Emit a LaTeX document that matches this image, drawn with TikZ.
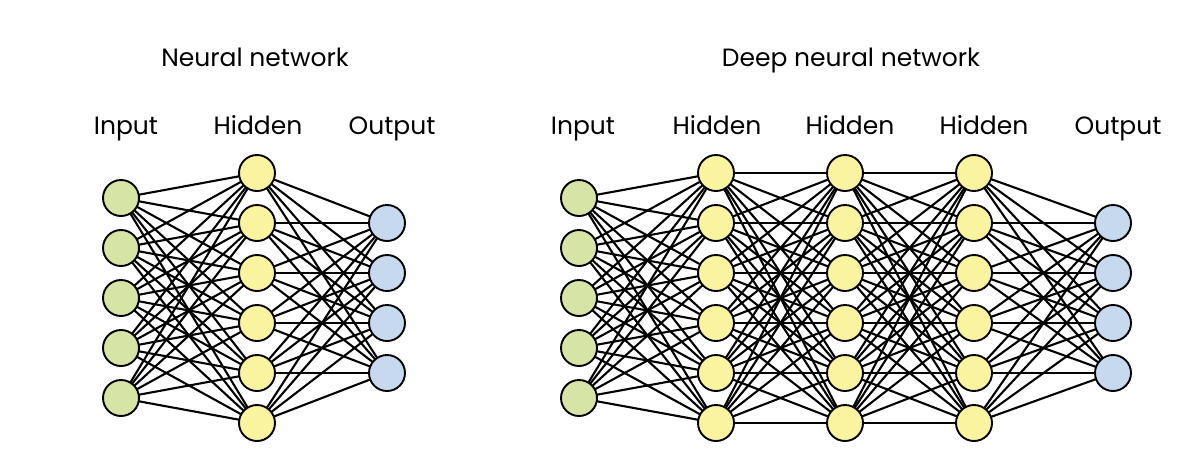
\documentclass[tikz,border=0pt]{standalone}
\usepackage{fontspec}
\setmainfont{Poppins}
\pgfdeclarelayer{edges}
\pgfsetlayers{edges,main}
\definecolor{ingreen}{RGB}{214,228,166}
\definecolor{hidyellow}{RGB}{250,244,160}
\definecolor{outblue}{RGB}{198,217,238}
\begin{document}
\begin{tikzpicture}[x=1pt,y=-1pt,
  neuron/.style={circle,draw=black,line width=1.9pt,minimum size=36pt,inner sep=0pt},
  innode/.style={neuron,fill=ingreen},
  hidnode/.style={neuron,fill=hidyellow},
  outnode/.style={neuron,fill=outblue},
  conn/.style={draw=black,line width=2.1pt},
  lbl/.style={anchor=base,font=\fontsize{25}{28}\selectfont,inner sep=0pt}]
\useasboundingbox (0,0) rectangle (1200,475);
% ---------- Neural network ----------
\node[lbl] (t1) at (255,66) {Neural network};
\node[lbl] (li) at (126,134) {Input};
\node[lbl] (lh) at (258,134) {Hidden};
\node[lbl] (lo) at (392,134) {Output};
\foreach \i in {1,...,5} \node[innode] (a\i) at (121,{148+50*\i}) {};
\foreach \i in {1,...,6} \node[hidnode] (b\i) at (257,{123+50*\i}) {};
\foreach \i in {1,...,4} \node[outnode] (c\i) at (387,{173+50*\i}) {};
\begin{pgfonlayer}{edges}
\foreach \i in {1,...,5} \foreach \j in {1,...,6} \draw[conn] (a\i.center) -- (b\j.center);
\foreach \i in {1,...,6} \foreach \j in {1,...,4} \draw[conn] (b\i.center) -- (c\j.center);
\end{pgfonlayer}
% ---------- Deep neural network ----------
\node[lbl] (t2) at (851,66) {Deep neural network};
\node[lbl] (di) at (583,134) {Input};
\node[lbl] (dh1) at (717,134) {Hidden};
\node[lbl] (dh2) at (850,134) {Hidden};
\node[lbl] (dh3) at (984,134) {Hidden};
\node[lbl] (do) at (1118,134) {Output};
\foreach \i in {1,...,5} \node[innode] (p\i) at (579,{148+50*\i}) {};
\foreach \i in {1,...,6} \node[hidnode] (q\i) at (716,{123+50*\i}) {};
\foreach \i in {1,...,6} \node[hidnode] (r\i) at (845,{123+50*\i}) {};
\foreach \i in {1,...,6} \node[hidnode] (s\i) at (974,{123+50*\i}) {};
\foreach \i in {1,...,4} \node[outnode] (u\i) at (1113,{173+50*\i}) {};
\begin{pgfonlayer}{edges}
\foreach \i in {1,...,5} \foreach \j in {1,...,6} \draw[conn] (p\i.center) -- (q\j.center);
\foreach \i in {1,...,6} \foreach \j in {1,...,6} \draw[conn] (q\i.center) -- (r\j.center);
\foreach \i in {1,...,6} \foreach \j in {1,...,6} \draw[conn] (r\i.center) -- (s\j.center);
\foreach \i in {1,...,6} \foreach \j in {1,...,4} \draw[conn] (s\i.center) -- (u\j.center);
\end{pgfonlayer}
\end{tikzpicture}
\end{document}
